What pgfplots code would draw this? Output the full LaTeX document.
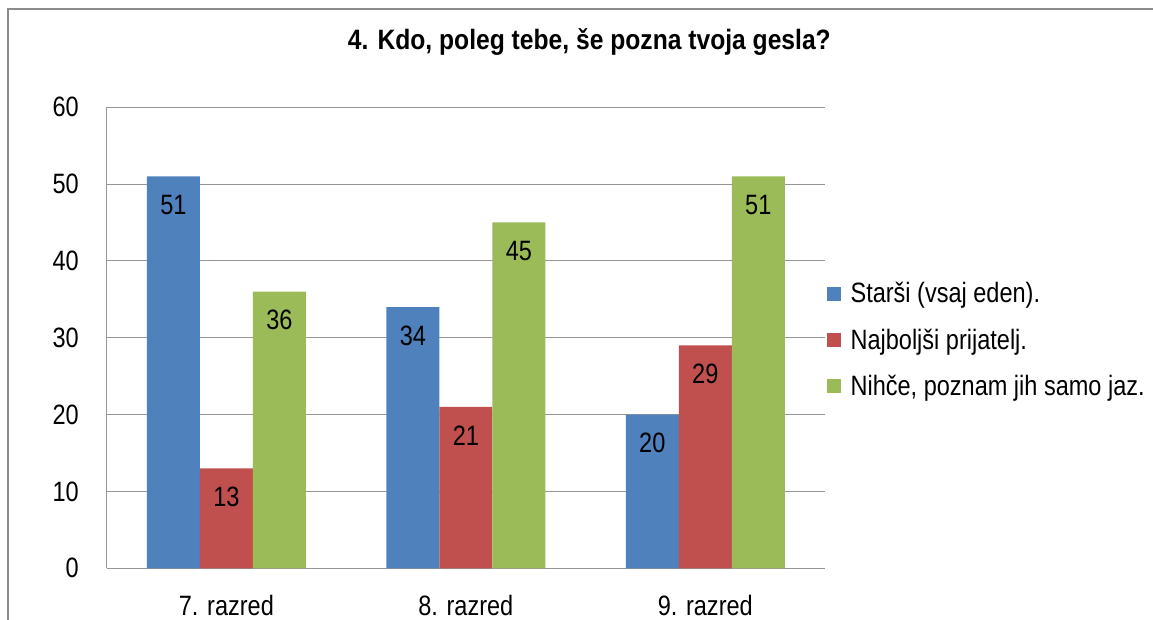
\documentclass[border=0pt]{standalone}
\usepackage{fontspec}
\setmainfont{Liberation Sans}[FakeStretch=0.84]
\newfontfamily\titlefont{Liberation Sans}[FakeStretch=0.88]
\usepackage{pgfplots}
\pgfplotsset{compat=1.18}
\definecolor{cBlue}{HTML}{4F81BD}
\definecolor{cRed}{HTML}{C0504D}
\definecolor{cGreen}{HTML}{9BBB59}
\definecolor{cGrid}{RGB}{150,150,150}
\definecolor{cFrame}{RGB}{140,140,140}
\begin{document}
\begin{tikzpicture}
\useasboundingbox (0pt,0pt) rectangle (864.75pt,465pt);
\draw[cFrame, line width=1.5pt] (6pt,-30pt) rectangle (900pt,458.25pt);
\node[font=\titlefont\bfseries\fontsize{21}{25}\selectfont] at (442pt,433.5pt) {4. Kdo, poleg tebe, še pozna tvoja gesla?};
\begin{axis}[
  at={(80.03pt,38.78pt)}, anchor=south west,
  scale only axis, width=538.7pt, height=345.8pt,
  ybar=0pt, bar width=39.75pt,
  xmin=-0.5, xmax=2.5, ymin=0, ymax=60,
  ytick={0,10,...,60},
  xtick=data, xticklabels={7. razred, 8. razred, 9. razred},
  axis x line*=bottom, axis y line*=left,
  axis line style={cGrid, line width=1pt},
  ymajorgrids, grid style={cGrid, line width=0.8pt},
  major tick length=0pt,
  tick label style={font=\fontsize{21}{25}\selectfont},
  /pgf/number format/assume math mode=true,
  yticklabel style={xshift=-17.5pt},
  xticklabel style={anchor=center, yshift=-28pt},
  nodes near coords,
  every node near coord/.append style={font=\fontsize{21}{25}\selectfont, anchor=center, yshift=-21.5pt, text=black},
  legend style={draw=none, fill=none, at={(1.0028,0.495)}, anchor=west, inner xsep=0pt,
    font=\fontsize{21}{25}\selectfont, row sep=14pt, cells={anchor=west},
    /tikz/every odd column/.append style={column sep=5pt}},
  legend cell align=left,
  legend image code/.code={\fill[#1] (0pt,-5.25pt) rectangle (10.5pt,5.25pt);},
]
\addplot[fill=cBlue, draw=none] coordinates {(0,51) (1,34) (2,20)};
\addplot[fill=cRed, draw=none] coordinates {(0,13) (1,21) (2,29)};
\addplot[fill=cGreen, draw=none] coordinates {(0,36) (1,45) (2,51)};
\legend{Starši (vsaj eden).,Najboljši prijatelj.,{Nihče, poznam jih samo jaz.}}
\end{axis}
\end{tikzpicture}
\end{document}
